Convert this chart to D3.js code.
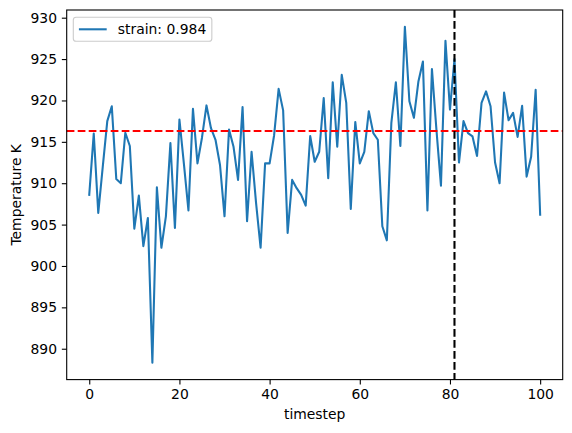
<!DOCTYPE html>
<html>
<head>
<meta charset="utf-8">
<script src="https://cdn.jsdelivr.net/npm/d3@7"></script>
<style>
  body { margin: 0; background: #fff; }
  svg text { font-family: "DejaVu Sans", sans-serif; fill: #000; }
</style>
</head>
<body>
<div id="chart"></div>
<script>
/* data */
var timesteps = d3.range(0, 101)
var temperature = [
  908.6, 916.0, 906.4, 912.0, 917.5, 919.3, 910.5, 910.0, 916.1, 914.5,
  904.5, 908.5, 902.4, 905.8, 888.3, 909.5, 902.2, 906.0, 914.85, 904.6,
  917.7, 912.3, 906.7, 919.0, 912.4, 915.5, 919.4, 916.65, 915.25, 912.2,
  906.0, 916.5, 914.4, 910.4, 919.2, 905.4, 913.8, 907.6, 902.2, 912.4,
  912.4, 915.8, 921.4, 918.8, 904.0, 910.4, 909.4, 908.6, 907.3, 915.7,
  912.6, 913.8, 920.3, 910.6, 922.2, 914.4, 923.1, 919.7, 906.9, 917.4,
  912.4, 913.8, 918.7, 916.05, 915.25, 904.8, 903.1, 917.3, 922.2, 914.5,
  928.9, 919.9, 917.9, 922.3, 924.7, 906.7, 923.8, 916.45, 909.7, 927.2,
  918.9, 925.0, 912.5, 917.5, 916.05, 915.65, 913.3, 919.7, 921.1, 919.3,
  912.5, 910.0, 920.95, 917.6, 918.5, 915.6, 919.35, 910.8, 913.2, 921.3,
  906.2
]
var seriesLabel = "strain: 0.984"
var hLineValue = 916.3   // red dashed reference level
var vLineStep = 81        // black dashed marker
var xTicks = [0, 20, 40, 60, 80, 100]
var yTicks = [890, 895, 900, 905, 910, 915, 920, 925, 930]

/* layout (matplotlib default axes, tight bbox) */
var width = 572, height = 433
var plotLeft = 66.7, plotTop = 10, plotW = 496, plotH = 369.6
var fontSize = 13.9

var svg = d3.select("#chart").append("svg")
  .attr("width", width)
  .attr("height", height)

// matplotlib pads the data range by 5% on each side
var xPad = 0.05 * (d3.max(timesteps) - d3.min(timesteps))
var x = d3.scaleLinear()
  .domain([d3.min(timesteps) - xPad, d3.max(timesteps) + xPad])
  .range([plotLeft, plotLeft + plotW])

var yMin = d3.min(temperature), yMax = d3.max(temperature)
var yPad = 0.05 * (yMax - yMin)
var y = d3.scaleLinear()
  .domain([yMin - yPad, yMax + yPad])
  .range([plotTop + plotH, plotTop])

// data line
var line = d3.line()
  .x((d, i) => x(timesteps[i]))
  .y(d => y(d))

svg.append("path")
  .datum(temperature)
  .attr("d", line)
  .attr("fill", "none")
  .attr("stroke", "#1f77b4")
  .attr("stroke-width", 2.08)
  .attr("stroke-linejoin", "round")
  .attr("stroke-linecap", "square")

// reference lines
svg.append("line")
  .attr("x1", plotLeft).attr("x2", plotLeft + plotW)
  .attr("y1", y(hLineValue)).attr("y2", y(hLineValue))
  .attr("stroke", "#ff0000")
  .attr("stroke-width", 2.08)
  .attr("stroke-dasharray", "7.7,3.3")

svg.append("line")
  .attr("x1", x(vLineStep)).attr("x2", x(vLineStep))
  .attr("y1", plotTop).attr("y2", plotTop + plotH)
  .attr("stroke", "#000")
  .attr("stroke-width", 2.08)
  .attr("stroke-dasharray", "7.7,3.3")

// axes
var xAxis = d3.axisBottom(x).tickValues(xTicks).tickSize(4.86).tickPadding(4.86)
var yAxis = d3.axisLeft(y).tickValues(yTicks).tickSize(4.86).tickPadding(4.86)

var gx = svg.append("g")
  .attr("transform", `translate(0,${plotTop + plotH})`)
  .call(xAxis)
var gy = svg.append("g")
  .attr("transform", `translate(${plotLeft},0)`)
  .call(yAxis)

;[gx, gy].forEach(g => {
  g.select(".domain").remove()
  g.selectAll(".tick line").attr("stroke", "#000").attr("stroke-width", 1.1)
  g.selectAll(".tick text")
    .attr("font-size", fontSize)
    .attr("font-family", "DejaVu Sans, sans-serif")
    .attr("fill", "#000")
})

// frame (spines)
svg.append("rect")
  .attr("x", plotLeft).attr("y", plotTop)
  .attr("width", plotW).attr("height", plotH)
  .attr("fill", "none")
  .attr("stroke", "#000")
  .attr("stroke-width", 1.1)

// axis labels
svg.append("text")
  .attr("x", plotLeft + plotW / 2)
  .attr("y", 419)
  .attr("text-anchor", "middle")
  .attr("font-size", fontSize)
  .text("timestep")

svg.append("text")
  .attr("transform", `translate(20.5,${plotTop + plotH / 2}) rotate(-90)`)
  .attr("text-anchor", "middle")
  .attr("font-size", fontSize)
  .text("Temperature K")

// legend
var legend = svg.append("g")
var legendBox = legend.append("rect")
  .attr("x", 73.3).attr("y", 17.3)
  .attr("height", 24)
  .attr("rx", 2.8)
  .attr("fill", "#fff")
  .attr("fill-opacity", 0.8)
  .attr("stroke", "#cccccc")
  .attr("stroke-width", 1.1)

legend.append("line")
  .attr("x1", 78.9).attr("x2", 106.7)
  .attr("y1", 29.3).attr("y2", 29.3)
  .attr("stroke", "#1f77b4")
  .attr("stroke-width", 2.08)

var legendText = legend.append("text")
  .attr("x", 117.8).attr("y", 34.2)
  .attr("font-size", fontSize)
  .text(seriesLabel)

var textW = legendText.node().getComputedTextLength()
legendBox.attr("width", 117.8 - 73.3 + textW + 5.6)
</script>
</body>
</html>
